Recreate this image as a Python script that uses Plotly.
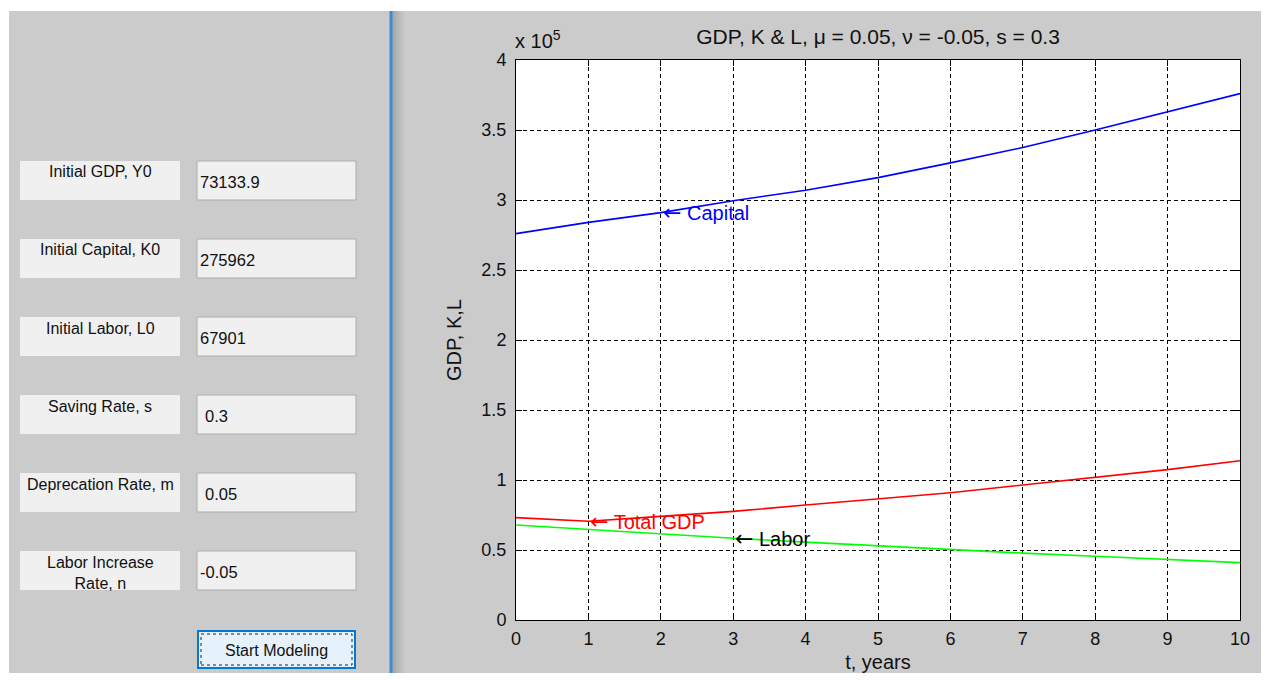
import plotly.graph_objects as go

# ---------------- data ----------------
t_years = [0, 1, 2, 3, 4, 5, 6, 7, 8, 9, 10]
capital = [275962, 284000, 291000, 299500, 307000, 316000, 326500, 337500, 350000, 363000, 376000]
total_gdp = [73134, 70500, 74000, 77600, 82100, 86400, 90900, 96400, 101900, 107400, 113800]
labor = [67901, 64600, 61400, 58400, 55600, 52900, 50300, 47800, 45500, 43300, 41000]

y_tickvals = [0, 50000, 100000, 150000, 200000, 250000, 300000, 350000, 400000]
y_ticktext = ["0", "0.5", "1", "1.5", "2", "2.5", "3", "3.5", "4"]
x_tickvals = [0, 1, 2, 3, 4, 5, 6, 7, 8, 9, 10]

chart_title = "GDP, K & L, \u03bc = 0.05, \u03bd = -0.05, s = 0.3"
x_title = "t, years"
y_title = "GDP, K,L"

# GUI panel contents
field_labels = ["Initial GDP, Y0", "Initial Capital, K0", "Initial Labor, L0",
                "Saving Rate, s", "Deprecation Rate, m", "Labor Increase<br>Rate, n"]
field_values = ["73133.9", "275962", "67901", "0.3", "0.05", "-0.05"]
button_text = "Start Modeling"

# page is 1269x681; the page body keeps an 8px margin, so the figure is 16px smaller
OFF = 8
W, H = 1253, 665
FONT = "Arial, Liberation Sans, sans-serif"
TXT = "#111111"
ARROW = "<span style='font-family:DejaVu Sans;font-size:22px'>\u2190</span>"


def px(x):
    return (x - OFF) / W


def py(y):
    return 1 - (y - OFF) / H


fig = go.Figure()
fig.add_trace(go.Scatter(x=t_years, y=capital, mode="lines",
                         line=dict(color="#0000FF", width=1.6), name="Capital"))
fig.add_trace(go.Scatter(x=t_years, y=total_gdp, mode="lines",
                         line=dict(color="#FF0000", width=1.6), name="Total GDP"))
fig.add_trace(go.Scatter(x=t_years, y=labor, mode="lines",
                         line=dict(color="#00FF00", width=1.6), name="Labor"))

shapes = []
annotations = []

# white strip at top of window
shapes.append(dict(type="rect", xref="paper", yref="paper", x0=0, x1=1, y0=py(11), y1=1,
                   fillcolor="white", line=dict(width=0), layer="above"))
shapes.append(dict(type="rect", xref="paper", yref="paper", x0=0, x1=px(9), y0=0, y1=1,
                   fillcolor="white", line=dict(width=0), layer="above"))
# splitter line + shading
grad = ["#a6a6a6", "#acacac", "#b3b3b3", "#b9b9b9", "#bfbfbf", "#c4c4c4"]
for i, c in enumerate(grad):
    shapes.append(dict(type="rect", xref="paper", yref="paper", x0=px(392 + 2 * i), x1=px(394 + 2 * i),
                       y0=0, y1=py(11), fillcolor=c, line=dict(width=0), layer="above"))
shapes.append(dict(type="rect", xref="paper", yref="paper", x0=px(389.5), x1=px(392.5), y0=0, y1=py(11),
                   fillcolor="#3d8bd0", line=dict(width=0), layer="above"))

# left GUI fields
row_tops = [161, 239, 317, 395, 473, 551]
for i, top in enumerate(row_tops):
    bot = top + 39
    shapes.append(dict(type="rect", xref="paper", yref="paper", x0=px(20), x1=px(180),
                       y0=py(bot), y1=py(top), fillcolor="#f0f0f0", line=dict(width=0), layer="above"))
    shapes.append(dict(type="rect", xref="paper", yref="paper", x0=px(197), x1=px(356),
                       y0=py(bot), y1=py(top), fillcolor="#f0f0f0",
                       line=dict(color="#adadad", width=1), layer="above"))
    lab = field_labels[i]
    if "<br>" in lab:
        annotations.append(dict(text=lab, x=px(100), y=py(top + 1), xref="paper", yref="paper",
                                xanchor="center", yanchor="top", showarrow=False, align="center",
                                font=dict(family=FONT, size=16, color=TXT)))
    else:
        annotations.append(dict(text=lab, x=px(100), y=py(top + 11), xref="paper", yref="paper",
                                xanchor="center", yanchor="middle", showarrow=False,
                                font=dict(family=FONT, size=16, color=TXT)))
    val = field_values[i]
    vx = 203 if i in (3, 4) else 198
    annotations.append(dict(text=val, x=px(vx), y=py(top + 21), xref="paper", yref="paper",
                            xanchor="left", yanchor="middle", showarrow=False,
                            font=dict(family=FONT, size=16.5, color=TXT)))

# button
shapes.append(dict(type="rect", xref="paper", yref="paper", x0=px(198), x1=px(355),
                   y0=py(668), y1=py(631), fillcolor="#e5f1fb",
                   line=dict(color="#0078d7", width=2), layer="above"))
shapes.append(dict(type="rect", xref="paper", yref="paper", x0=px(201), x1=px(352),
                   y0=py(665), y1=py(634), fillcolor="rgba(0,0,0,0)",
                   line=dict(color="#222222", width=1, dash="dot"), layer="above"))
annotations.append(dict(text=button_text, x=px(276.5), y=py(650), xref="paper", yref="paper",
                        xanchor="center", yanchor="middle", showarrow=False,
                        font=dict(family=FONT, size=16, color=TXT)))

# plot annotations
annotations.append(dict(text="x 10<sup>5</sup>", x=px(513), y=py(54), xref="paper", yref="paper",
                        xanchor="left", yanchor="bottom", showarrow=False,
                        font=dict(family=FONT, size=20, color=TXT)))
annotations.append(dict(text=ARROW + " Capital", x=t_years[2], y=capital[2], xref="x", yref="y",
                        xanchor="left", yanchor="middle", showarrow=False,
                        font=dict(family=FONT, size=20, color="#0000FF")))
annotations.append(dict(text=ARROW + " Total GDP", x=t_years[1], y=total_gdp[1], xref="x", yref="y",
                        xanchor="left", yanchor="middle", showarrow=False,
                        font=dict(family=FONT, size=20, color="#FF0000")))
annotations.append(dict(text=ARROW + " Labor", x=t_years[3], y=labor[3], xref="x", yref="y",
                        xanchor="left", yanchor="middle", showarrow=False,
                        font=dict(family=FONT, size=20, color="#000000")))

axis_common = dict(showline=True, linecolor="black", linewidth=1, mirror="ticks",
                   ticks="inside", ticklen=6, tickcolor="black", tickwidth=1,
                   showgrid=True, gridcolor="black", gridwidth=1, griddash="4px,3px",
                   zeroline=False, automargin=False,
                   tickfont=dict(family=FONT, size=18, color=TXT))

fig.update_layout(
    width=W, height=H, autosize=False,
    margin=dict(l=0, r=0, t=0, b=0, pad=0, autoexpand=False),
    paper_bgcolor="#cbcbcb", plot_bgcolor="white",
    showlegend=False, hovermode=False,
    title=dict(text=chart_title, x=px(878), xref="paper", xanchor="center",
               y=py(37), yref="paper", yanchor="middle",
               font=dict(family=FONT, size=21, color=TXT)),
    xaxis=dict(domain=[px(516), px(1240)], range=[0, 10], tickvals=x_tickvals,
               ticklabelstandoff=2,
               title=dict(text=x_title, standoff=8, font=dict(family=FONT, size=20, color=TXT)),
               **axis_common),
    yaxis=dict(domain=[py(620), py(60)], range=[0, 400000], tickvals=y_tickvals, ticktext=y_ticktext,
               ticklabelstandoff=5,
               title=dict(text=y_title, standoff=14, font=dict(family=FONT, size=20, color=TXT)),
               **axis_common),
    shapes=shapes, annotations=annotations,
)

fig.write_html("out.html", config={"displayModeBar": False, "staticPlot": True})
